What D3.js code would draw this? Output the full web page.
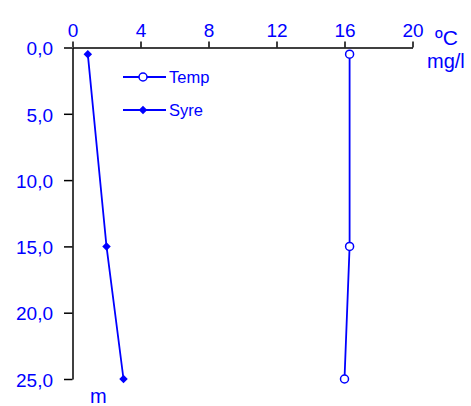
<!DOCTYPE html>
<html>
<head>
<meta charset="utf-8">
<script src="https://cdn.jsdelivr.net/npm/d3@7"></script>
<style>
  html, body { margin: 0; padding: 0; background: #fff; }
  svg { display: block; }
  text { font-family: Arial, "Liberation Sans", sans-serif; fill: #0000ff; }
</style>
</head>
<body>
<svg id="chart" width="471" height="406"></svg>
<script>
// Depth profile: temperature (°C) and oxygen (mg/l) against depth (m)
const depths = [0.5, 15, 25];
const temp = [16.3, 16.3, 16.0];
const syre = [0.9, 2.0, 3.0];
const xTicks = [0, 4, 8, 12, 16, 20];
const yTicks = [0, 5, 10, 15, 20, 25];
const seriesNames = ["Temp", "Syre"];

const svg = d3.select("#chart");
const blue = "#0000ff";
const m = { left: 72.5, right: 412.5, top: 47.5, bottom: 379 };

const x = d3.scaleLinear().domain([0, 20]).range([m.left, m.right]);
const y = d3.scaleLinear().domain([0, 25]).range([m.top, m.bottom]);

// top x axis
const xAxis = svg.append("g").attr("transform", `translate(0,${m.top})`)
  .call(d3.axisTop(x).tickValues(xTicks).tickSize(6).tickSizeOuter(0).tickPadding(5));
// left y axis
const yAxis = svg.append("g").attr("transform", `translate(${m.left},0)`)
  .call(d3.axisLeft(y).tickValues(yTicks).tickSize(8.5).tickSizeOuter(0).tickPadding(11)
    .tickFormat(d => d3.format(".1f")(d).replace(".", ",")));

[xAxis, yAxis].forEach(g => {
  g.selectAll("path.domain, line").attr("stroke", "#000").attr("stroke-width", 1.5);
  g.selectAll("text").attr("font-size", 19).attr("fill", blue)
    .style("font-family", "Arial, 'Liberation Sans', sans-serif");
});
yAxis.selectAll("text").attr("dy", "0.38em");

// unit labels
svg.append("text").attr("x", 435).attr("y", 45).attr("font-size", 21).text("ºC");
svg.append("text").attr("x", 427).attr("y", 68).attr("font-size", 20).text("mg/l");
svg.append("text").attr("x", 90).attr("y", 403).attr("font-size", 20).text("m");

const line = d3.line();

// Temp series: open circles
svg.append("path")
  .attr("d", line(depths.map((d, i) => [x(temp[i]), y(d)])))
  .attr("fill", "none").attr("stroke", blue).attr("stroke-width", 1.8);
svg.selectAll("circle.temp").data(depths).join("circle").attr("class", "temp")
  .attr("cx", (d, i) => x(temp[i])).attr("cy", d => y(d)).attr("r", 4)
  .attr("fill", "#fff").attr("stroke", blue).attr("stroke-width", 1.5);

// Syre series: filled diamonds
const diamond = d3.symbol().type(d3.symbolDiamond2).size(46);
svg.append("path")
  .attr("d", line(depths.map((d, i) => [x(syre[i]), y(d)])))
  .attr("fill", "none").attr("stroke", blue).attr("stroke-width", 1.8);
svg.selectAll("path.syre").data(depths).join("path").attr("class", "syre")
  .attr("transform", (d, i) => `translate(${x(syre[i])},${y(d)})`)
  .attr("d", diamond).attr("fill", blue);

// legend
const legend = svg.append("g");
seriesNames.forEach((name, i) => {
  const ly = 77 + i * 33;
  legend.append("line").attr("x1", 123).attr("x2", 166).attr("y1", ly).attr("y2", ly)
    .attr("stroke", blue).attr("stroke-width", 1.8);
  if (i === 0) {
    legend.append("circle").attr("cx", 143).attr("cy", ly).attr("r", 4)
      .attr("fill", "#fff").attr("stroke", blue).attr("stroke-width", 1.5);
  } else {
    legend.append("path").attr("transform", `translate(143,${ly})`).attr("d", diamond).attr("fill", blue);
  }
  legend.append("text").attr("x", 169).attr("y", ly + 6).attr("font-size", 16.5).text(name);
});
</script>
</body>
</html>
